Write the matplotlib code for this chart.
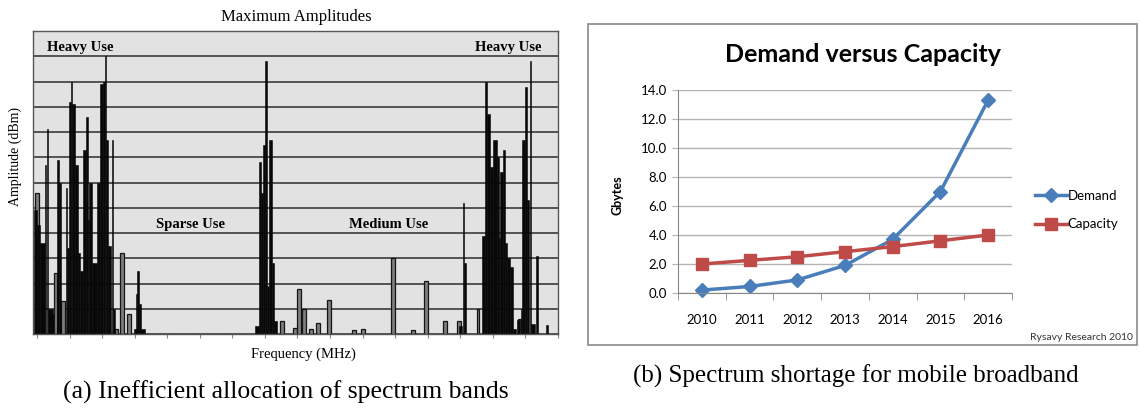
import numpy as np
import matplotlib.pyplot as plt
from matplotlib.patches import Rectangle

# ---- (a) spectrum sweep: frequency in sweep units, amplitude in grid divisions ----
# solid (black) max-hold segments: start, end, amplitude
black_lo = [34, 37, 40, 44.5, 46.5, 48, 56.5, 58.5, 65.5, 67, 69, 70.5, 71.5, 75, 77.5, 80, 83, 86,
            87.5, 89, 92, 97, 100, 103, 104.5, 106, 108, 111.5, 113, 134, 135.5, 137, 138.5,
            255, 259, 260.5, 263, 265, 266.5, 269, 272, 274,
            459, 462.5, 464,
            482, 484.5, 487, 490, 492.5, 496.5, 499, 500, 502.5, 505, 507, 510, 513, 517, 520.5,
            522, 524.5, 526.5, 529.5, 531, 535.5, 545.5]
black_hi = [37, 40, 44.5, 46, 48, 53, 58.5, 60.5, 67, 69, 70.5, 71.5, 75, 77.5, 80, 83, 86, 87.5,
            89, 92, 97, 100, 103, 104.5, 106, 108, 111, 113, 114.5, 145, 137, 138.5, 141,
            259, 260.5, 263, 264.5, 266.5, 269, 272, 274, 277,
            462, 464, 465.5,
            484.5, 487, 490, 492.5, 496.5, 499, 500, 502.5, 505, 507, 510, 513, 516, 520, 522,
            524.5, 526.5, 529, 531, 535, 537.5, 547.5]
black_amp = [4.9, 4.3, 3.6, 6.7, 8.1, 1.0, 6.9, 6.0, 5.8, 3.4, 9.2, 10.0, 9.1, 6.7, 3.2, 2.5, 7.3, 8.6,
             4.5, 6.0, 2.8, 6.0, 9.9, 10.0, 11.0, 7.7, 3.5, 7.7, 1.0, 0.2, 1.6, 2.5, 1.2,
             0.3, 6.8, 5.6, 7.5, 10.8, 1.9, 7.7, 2.8, 0.5,
             0.3, 5.2, 2.8,
             3.9, 10.0, 8.7, 6.6, 7.7, 7.0, 3.8, 6.4, 7.3, 3.6, 3.0, 2.65, 0.2, 0.55, 1.0,
             7.7, 9.8, 5.3, 10.8, 0.4, 3.1, 0.35]

# outlined (gray) narrow carriers
gray_lo = [35, 49, 53.5, 61, 115, 120, 127, 280, 293, 297, 302, 309, 316, 327, 352, 361, 391,
           411, 424, 443, 457, 476.5, 517.5]
gray_hi = [39, 53, 57, 65, 118, 124, 131, 284, 297, 301, 306, 313, 320, 331, 356, 365, 395,
           415, 428, 447, 461, 478.5, 521]
gray_amp = [5.6, 0.8, 2.4, 1.3, 0.2, 3.2, 0.8, 0.5, 0.25, 1.8, 1.0, 0.2, 0.45, 1.35, 0.15, 0.2, 3.0,
            0.15, 2.1, 0.5, 0.5, 1.0, 0.6]

# ---- (b) demand vs capacity ----
years = ['2010', '2011', '2012', '2013', '2014', '2015', '2016']
demand = [0.2, 0.45, 0.9, 1.9, 3.7, 7.0, 13.3]
capacity = [2.0, 2.25, 2.5, 2.85, 3.2, 3.6, 4.0]

W, H = 1140, 408
def fx(px):
    return px / W
def fy(py):
    return 1 - py / H

serif = ['Liberation Serif', 'DejaVu Serif']
sans = ['Lato', 'DejaVu Sans']

fig = plt.figure(figsize=(W / 100, H / 100), dpi=100)

# left panel
ax1 = fig.add_axes([fx(33), fy(334), (558 - 33) / W, (334 - 31) / H])
ax1.set_facecolor('#e2e2e2')
ax1.set_xlim(33, 558)
ax1.set_ylim(0, 12)
ax1.set_yticks(np.arange(0, 13))
ax1.yaxis.grid(True, color='#3a3a3a', lw=1.2)
ax1.set_axisbelow(True)
ax1.tick_params(axis='y', length=0, labelleft=False)
ax1.set_xticks(37 + 32.56 * np.arange(17))
ax1.tick_params(axis='x', length=3, color='#888888', labelbottom=False)
for s in ax1.spines.values():
    s.set_color('#555555')
    s.set_linewidth(1.0)

gw = np.array(gray_hi) - np.array(gray_lo)
ax1.bar(gray_lo, gray_amp, width=gw, align='edge', color='#7e7e7e', edgecolor='#151515', lw=0.9)
bw = np.array(black_hi) - np.array(black_lo)
ax1.bar(black_lo, black_amp, width=bw, align='edge', color='#080808', edgecolor='#080808', lw=0.4)

fig.text(fx(296), fy(17), 'Maximum Amplitudes', ha='center', va='center', fontsize=12, family=serif)
fig.text(fx(80), fy(47), 'Heavy Use', ha='center', va='center', fontsize=10.5, weight='bold', family=serif)
fig.text(fx(508), fy(47), 'Heavy Use', ha='center', va='center', fontsize=10.5, weight='bold', family=serif)
fig.text(fx(190), fy(224), 'Sparse Use', ha='center', va='center', fontsize=10.5, weight='bold', family=serif)
fig.text(fx(389), fy(224), 'Medium Use', ha='center', va='center', fontsize=10.5, weight='bold', family=serif)
fig.text(fx(15), fy(157), 'Amplitude (dBm)', rotation=90, ha='center', va='center', fontsize=10, family=serif)
fig.text(fx(303), fy(354), 'Frequency (MHz)', ha='center', va='center', fontsize=10.5, family=serif)
fig.text(fx(286), fy(392), '(a) Inefficient allocation of spectrum bands', ha='center', va='center',
         fontsize=18.5, family=serif)

# right panel
fig.add_artist(Rectangle((fx(588), fy(345)), (1137 - 588) / W, (345 - 24) / H, transform=fig.transFigure,
                         fill=False, ec='#8a8a8a', lw=1.2))
ax2 = fig.add_axes([fx(678), fy(293), (1012 - 678) / W, (293 - 90) / H])
x = np.arange(len(years))
ax2.plot(x, demand, color='#4a7ebb', lw=2.5, marker='D', ms=7, label='Demand', clip_on=False)
ax2.plot(x, capacity, color='#be4b48', lw=2.5, marker='s', ms=8, label='Capacity', clip_on=False)
ax2.set_xlim(-0.5, 6.5)
ax2.set_ylim(0, 14)
yt = np.arange(0, 15, 2)
ax2.set_yticks(yt, [f'{v:.1f}' for v in yt])
ax2.yaxis.grid(True, color='#b4b4b4', lw=1.0)
ax2.set_axisbelow(True)
ax2.set_xticks(x, years)
ax2.set_xticks(np.arange(-0.5, 7), minor=True)
ax2.tick_params(axis='x', which='major', length=0, pad=15, labelsize=9.5)
ax2.tick_params(axis='x', which='minor', length=5, color='#868686')
ax2.tick_params(axis='y', length=4, color='#b4b4b4', pad=4, labelsize=9.5)
for lab in ax2.get_xticklabels() + ax2.get_yticklabels():
    lab.set_family(sans)
for side in ['top', 'right']:
    ax2.spines[side].set_visible(False)
for side in ['left', 'bottom']:
    ax2.spines[side].set_color('#868686')

fig.text(fx(863), fy(55), 'Demand versus Capacity', ha='center', va='center', fontsize=18,
         weight='bold', family=sans)
fig.text(fx(618), fy(195), 'Gbytes', rotation=90, ha='center', va='center', fontsize=9,
         weight='bold', family=sans)
fig.legend(loc='upper left', bbox_to_anchor=(fx(1023), fy(178)), frameon=False, handlelength=2.4,
           handletextpad=0.1, labelspacing=1.25, prop={'family': sans, 'size': 9.5})
fig.text(fx(1133), fy(337), 'Rysavy Research 2010', ha='right', va='center', fontsize=7.5,
         color='#333333', family=sans)
fig.text(fx(856), fy(376), '(b) Spectrum shortage for mobile broadband', ha='center', va='center',
         fontsize=18, family=serif)

fig.savefig('out.png', dpi=100)
